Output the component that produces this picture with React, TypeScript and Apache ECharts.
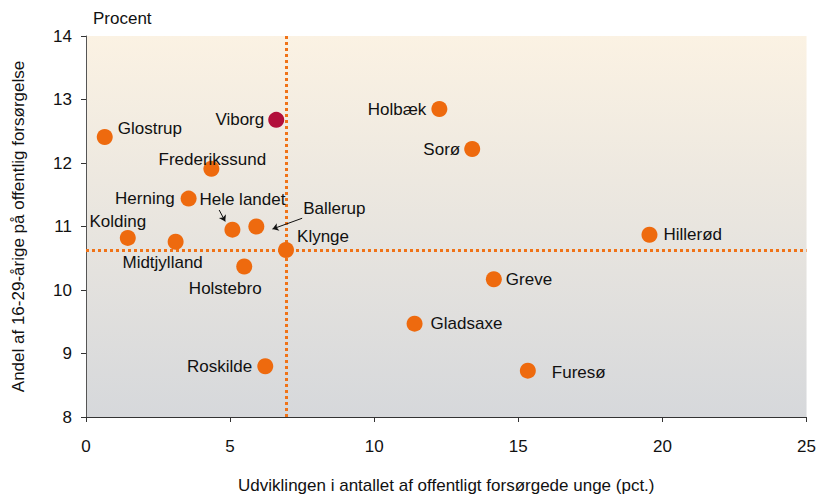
import React, { useEffect, useRef } from "react";
import * as echarts from "echarts";

const names = ["Glostrup", "Viborg", "Frederikssund", "Herning", "Hele landet", "Ballerup", "Kolding", "Midtjylland", "Klynge", "Holstebro", "Holbæk", "Sorø", "Hillerød", "Greve", "Gladsaxe", "Roskilde", "Furesø"];
const xValues = [0.65, 6.6, 4.35, 3.56, 5.08, 5.91, 1.45, 3.11, 6.94, 5.49, 12.26, 13.4, 19.55, 14.15, 11.4, 6.22, 15.33];
const yValues = [12.41, 12.68, 11.91, 11.44, 10.95, 11.0, 10.82, 10.76, 10.63, 10.37, 12.85, 12.22, 10.87, 10.17, 9.47, 8.8, 8.73];
const highlighted = ["Viborg"];
const refX = 6.94;
const refY = 10.62;
const xTicks = [0, 5, 10, 15, 20, 25];
const yTicks = [8, 9, 10, 11, 12, 13, 14];
// arrows: [fromX, fromY, toX, toY] in data units
const arrowHeleLandet = [4.62, 11.26, 4.83, 11.08];
const arrowBallerup = [7.5, 11.13, 6.47, 10.96];

const labelStyle: Record<string, any> = {
  Glostrup: { position: "right", distance: 5, offset: [0, -8] },
  Viborg: { position: "left", distance: 4 },
  Frederikssund: { position: "inside", offset: [1, -9] },
  Herning: { position: "left", distance: 6 },
  "Hele landet": { position: "inside", offset: [10, -30] },
  Ballerup: { position: "inside", offset: [78, -18] },
  Kolding: { position: "inside", offset: [-10, -16] },
  Midtjylland: { position: "inside", offset: [-13, 21] },
  Klynge: { position: "inside", offset: [37, -13] },
  Holstebro: { position: "inside", offset: [-19, 22] },
  Holbæk: { position: "left", distance: 5 },
  Sorø: { position: "left", distance: 4 },
  Hillerød: { position: "right", distance: 6 },
  Greve: { position: "right", distance: 4 },
  Gladsaxe: { position: "right", distance: 8 },
  Roskilde: { position: "left", distance: 5 },
  Furesø: { position: "right", distance: 16, offset: [0, 2] },
};

const FONT = "'Liberation Sans', Arial, Helvetica, sans-serif";
const FS = 17;
const ORANGE = "#EE6A0E";
const DARKRED = "#B20F3B";

export default function App() {
  const ref = useRef<HTMLDivElement>(null);
  useEffect(() => {
    document.body.style.margin = "0";
    const chart = echarts.init(ref.current!, null, { renderer: "svg" });
    const data = names.map((n, i) => ({
      name: n,
      value: [xValues[i], yValues[i]],
      itemStyle: { color: highlighted.includes(n) ? DARKRED : ORANGE, opacity: 1 },
      label: {
        show: true,
        formatter: n,
        color: "#111",
        fontSize: FS,
        fontFamily: FONT,
        ...labelStyle[n],
      },
    }));
    chart.setOption({
      animation: false,
      backgroundColor: "#fff",
      title: {
        text: "Procent",
        left: 93,
        top: 10,
        padding: 0,
        textStyle: { fontSize: FS, fontWeight: "normal", color: "#111", fontFamily: FONT },
      },
      grid: {
        left: 86,
        right: 9,
        top: 36,
        bottom: 78,
        show: true,
        borderWidth: 0,
        backgroundColor: new echarts.graphic.LinearGradient(0, 0, 0, 1, [
          { offset: 0, color: "#FBF2E3" },
          { offset: 1, color: "#D6D8DB" },
        ]),
      },
      xAxis: {
        type: "value",
        min: xTicks[0],
        max: xTicks[xTicks.length - 1],
        interval: 5,
        name: "Udviklingen i antallet af offentligt forsørgede unge (pct.)",
        nameLocation: "middle",
        nameGap: 60,
        nameTextStyle: { fontSize: FS, color: "#111", fontFamily: FONT },
        axisLine: { lineStyle: { color: "#333", width: 1 } },
        axisTick: { show: true, length: 5, lineStyle: { color: "#333" } },
        axisLabel: { fontSize: FS, color: "#111", fontFamily: FONT, margin: 21 },
        splitLine: { show: false },
      },
      yAxis: {
        type: "value",
        min: yTicks[0],
        max: yTicks[yTicks.length - 1],
        interval: 1,
        name: "Andel af 16-29-årige på offentlig forsørgelse",
        nameLocation: "middle",
        nameGap: 59,
        nameTextStyle: { fontSize: FS, color: "#111", fontFamily: FONT },
        axisLine: { show: true, lineStyle: { color: "#555", width: 1 } },
        axisTick: { show: true, length: 5, lineStyle: { color: "#333" } },
        axisLabel: { fontSize: FS, color: "#111", fontFamily: FONT, margin: 14 },
        splitLine: { show: false },
      },
      series: [
        {
          type: "scatter",
          symbolSize: 16,
          data,
          z: 3,
          emphasis: { disabled: true },
          markLine: {
            silent: true,
            symbol: "none",
            label: { show: false },
            lineStyle: { color: "#F07317", width: 3, type: [3, 3], opacity: 1 },
            data: [{ xAxis: refX }, { yAxis: refY }],
            z: 2,
          },
        },
        {
          type: "scatter",
          data: [],
          markLine: {
            silent: true,
            symbol: ["none", "arrow"],
            symbolSize: 6,
            label: { show: false },
            lineStyle: { color: "#111", width: 1, type: "solid", opacity: 1 },
            data: [
              [
                { coord: [arrowHeleLandet[0], arrowHeleLandet[1]] },
                { coord: [arrowHeleLandet[2], arrowHeleLandet[3]] },
              ],
              [
                { coord: [arrowBallerup[0], arrowBallerup[1]] },
                { coord: [arrowBallerup[2], arrowBallerup[3]] },
              ],
            ],
          },
        },
      ],
    });
    return () => chart.dispose();
  }, []);
  return <div ref={ref} style={{ position: "absolute", left: 0, top: 0, width: 819, height: 499 }} />;
}
